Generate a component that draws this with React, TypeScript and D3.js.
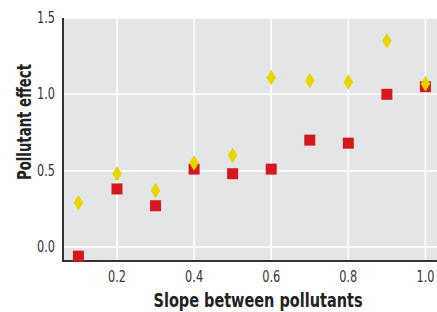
import { useEffect, useRef } from "react";
import * as d3 from "d3";

const slopes = [0.1, 0.2, 0.3, 0.4, 0.5, 0.6, 0.7, 0.8, 0.9, 1.0];
const redValues = [-0.06, 0.38, 0.27, 0.51, 0.48, 0.51, 0.7, 0.68, 1.0, 1.05];
const yellowValues = [0.29, 0.48, 0.37, 0.55, 0.6, 1.11, 1.09, 1.08, 1.35, 1.07];
const xTicks = [0.2, 0.4, 0.6, 0.8, 1.0];
const yTicks = [0.0, 0.5, 1.0, 1.5];

const W = 437;
const H = 312;
const narrow = "'Liberation Sans Narrow', 'DejaVu Sans Condensed', 'Liberation Sans', sans-serif";

const App = () => {
  const ref = useRef<SVGSVGElement | null>(null);

  useEffect(() => {
    if (!ref.current) return;
    const svg = d3.select(ref.current);
    svg.selectAll("*").remove();

    const m = { left: 63, right: 0, top: 18, bottom: 51 };
    const x = d3.scaleLinear().domain([0.06, 1.03]).range([m.left, W - m.right]);
    const y = d3.scaleLinear().domain([-0.092, 1.5]).range([H - m.bottom, m.top]);

    // panel background
    svg
      .append("rect")
      .attr("x", m.left)
      .attr("y", m.top)
      .attr("width", W - m.right - m.left)
      .attr("height", H - m.bottom - m.top)
      .attr("fill", "#e4e5e7");

    // grid
    svg
      .append("g")
      .selectAll("line")
      .data(xTicks)
      .enter()
      .append("line")
      .attr("x1", d => x(d))
      .attr("x2", d => x(d))
      .attr("y1", m.top)
      .attr("y2", H - m.bottom)
      .attr("stroke", "#fff")
      .attr("stroke-width", 1.5);

    svg
      .append("g")
      .selectAll("line")
      .data(yTicks)
      .enter()
      .append("line")
      .attr("x1", m.left)
      .attr("x2", W - m.right)
      .attr("y1", d => y(d))
      .attr("y2", d => y(d))
      .attr("stroke", "#fff")
      .attr("stroke-width", 1.5);

    // axis lines
    svg
      .append("line")
      .attr("x1", m.left)
      .attr("x2", m.left)
      .attr("y1", m.top)
      .attr("y2", H - m.bottom + 1)
      .attr("stroke", "#333")
      .attr("stroke-width", 2);
    svg
      .append("line")
      .attr("x1", m.left - 1)
      .attr("x2", W)
      .attr("y1", H - m.bottom)
      .attr("y2", H - m.bottom)
      .attr("stroke", "#333")
      .attr("stroke-width", 2);

    // tick labels
    svg
      .append("g")
      .selectAll("text")
      .data(xTicks)
      .enter()
      .append("text")
      .attr("x", d => x(d))
      .attr("y", 282)
      .attr("text-anchor", "middle")
      .attr("font-family", narrow)
      .attr("font-size", 15)
      .attr("textLength", 18)
      .attr("lengthAdjust", "spacingAndGlyphs")
      .attr("fill", "#333")
      .text(d => d.toFixed(1));

    svg
      .append("g")
      .selectAll("text")
      .data(yTicks)
      .enter()
      .append("text")
      .attr("x", 55)
      .attr("y", d => y(d) + 5)
      .attr("text-anchor", "end")
      .attr("font-family", narrow)
      .attr("font-size", 15)
      .attr("textLength", 18)
      .attr("lengthAdjust", "spacingAndGlyphs")
      .attr("fill", "#333")
      .text(d => d.toFixed(1));

    // axis titles
    svg
      .append("text")
      .attr("x", 258)
      .attr("y", 307)
      .attr("text-anchor", "middle")
      .attr("font-family", narrow)
      .attr("font-weight", "bold")
      .attr("font-size", 20)
      .attr("textLength", 209)
      .attr("lengthAdjust", "spacingAndGlyphs")
      .attr("fill", "#222")
      .text("Slope between pollutants");

    svg
      .append("text")
      .attr("transform", "translate(31,122) rotate(-90)")
      .attr("text-anchor", "middle")
      .attr("font-family", narrow)
      .attr("font-weight", "bold")
      .attr("font-size", 20)
      .attr("textLength", 116)
      .attr("lengthAdjust", "spacingAndGlyphs")
      .attr("fill", "#222")
      .text("Pollutant effect");

    // red squares
    const sq = 11;
    svg
      .append("g")
      .selectAll("rect")
      .data(slopes.map((s, i) => ({ s, v: redValues[i] })))
      .enter()
      .append("rect")
      .attr("x", d => x(d.s) - sq / 2)
      .attr("y", d => y(d.v) - sq / 2)
      .attr("width", sq)
      .attr("height", sq)
      .attr("fill", "#d7191f");

    // yellow diamonds
    const dw = 4.8;
    const dh = 7.8;
    svg
      .append("g")
      .selectAll("path")
      .data(slopes.map((s, i) => ({ s, v: yellowValues[i] })))
      .enter()
      .append("path")
      .attr("transform", d => `translate(${x(d.s)},${y(d.v)})`)
      .attr("d", `M0,${-dh}L${dw},0L0,${dh}L${-dw},0Z`)
      .attr("fill", "#e8d500");
  }, []);

  return (
    <svg
      ref={ref}
      width={W}
      height={H}
      style={{ position: "absolute", left: 0, top: 0, display: "block", background: "#fff" }}
    />
  );
};

export default App;
